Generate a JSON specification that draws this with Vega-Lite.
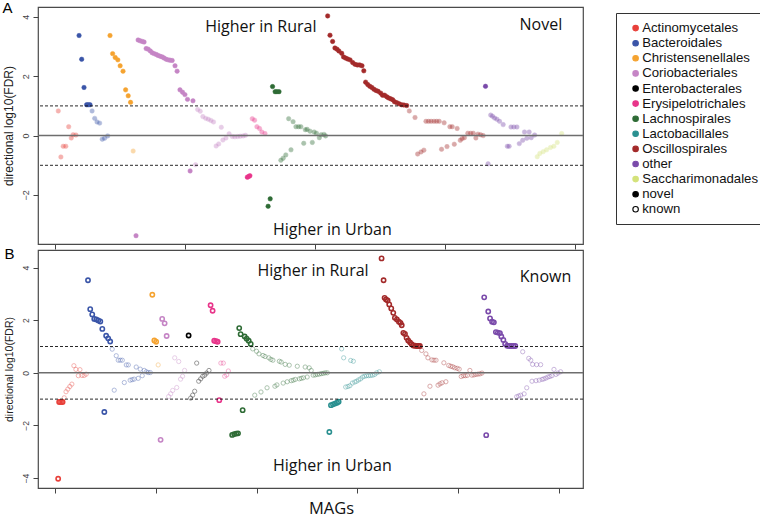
{
  "$schema": "https://vega.github.io/schema/vega-lite/v6.json",
  "padding": {"left": 1, "top": 0, "right": 0, "bottom": 0},
  "bounds": "flush",
  "spacing": 6,
  "config": {
    "view": {"stroke": "#4a4a4a", "strokeWidth": 1.2},
    "axis": {"grid": false, "domain": false, "tickColor": "#444", "labelColor": "#444", "labelFont": "Liberation Sans", "titleFont": "Liberation Sans", "titleFontWeight": "normal", "titleColor": "#222"},
    "legend": {"title": null, "strokeColor": "#333", "strokeWidth": 1, "padding": 8.5, "labelFont": "Liberation Sans", "labelFontSize": 13.2, "labelColor": "#111", "symbolSize": 30, "symbolStrokeWidth": 1.1, "rowPadding": 1.1, "symbolType": "circle", "labelOffset": 0, "symbolOffset": 4.5}
  },
  "datasets": {
    "novel": [
      {"order":"Actinomycetales","idx":1.3,"lfdr":0.83},{"order":"Actinomycetales","idx":2.3,"lfdr":-0.72},{"order":"Actinomycetales","idx":3.2,"lfdr":-0.36},{"order":"Actinomycetales","idx":4.2,"lfdr":-0.36},{"order":"Actinomycetales","idx":5.3,"lfdr":0.30},{"order":"Actinomycetales","idx":6.3,"lfdr":-0.08},{"order":"Actinomycetales","idx":7.0,"lfdr":0.03},{"order":"Actinomycetales","idx":8.1,"lfdr":0.02},
      {"order":"Bacteroidales","idx":9.3,"lfdr":3.37},{"order":"Bacteroidales","idx":10.3,"lfdr":2.57},{"order":"Bacteroidales","idx":11.2,"lfdr":1.62},{"order":"Bacteroidales","idx":12.2,"lfdr":1.04},{"order":"Bacteroidales","idx":12.8,"lfdr":1.04},{"order":"Bacteroidales","idx":13.5,"lfdr":1.04},{"order":"Bacteroidales","idx":14.3,"lfdr":0.83},{"order":"Bacteroidales","idx":15.3,"lfdr":0.58},{"order":"Bacteroidales","idx":16.2,"lfdr":0.46},{"order":"Bacteroidales","idx":17.2,"lfdr":0.42},{"order":"Bacteroidales","idx":18.2,"lfdr":-0.12},{"order":"Bacteroidales","idx":19.1,"lfdr":-0.09},{"order":"Bacteroidales","idx":20.3,"lfdr":-0.01},
      {"order":"Christensenellales","idx":21.2,"lfdr":3.37},{"order":"Christensenellales","idx":22.2,"lfdr":2.76},{"order":"Christensenellales","idx":23.2,"lfdr":2.63},{"order":"Christensenellales","idx":24.2,"lfdr":2.55},{"order":"Christensenellales","idx":25.1,"lfdr":2.35},{"order":"Christensenellales","idx":26.2,"lfdr":2.17},{"order":"Christensenellales","idx":27.2,"lfdr":1.54},{"order":"Christensenellales","idx":28.2,"lfdr":1.34},{"order":"Christensenellales","idx":29.1,"lfdr":1.12},{"order":"Christensenellales","idx":30.1,"lfdr":-0.52},
      {"order":"Coriobacteriales","idx":31.2,"lfdr":-3.37},{"order":"Coriobacteriales","idx":32.0,"lfdr":3.22},{"order":"Coriobacteriales","idx":32.8,"lfdr":3.19},{"order":"Coriobacteriales","idx":33.6,"lfdr":3.17},{"order":"Coriobacteriales","idx":34.3,"lfdr":3.15},{"order":"Coriobacteriales","idx":35.1,"lfdr":2.93},{"order":"Coriobacteriales","idx":35.9,"lfdr":2.91},{"order":"Coriobacteriales","idx":36.7,"lfdr":2.85},{"order":"Coriobacteriales","idx":37.4,"lfdr":2.79},{"order":"Coriobacteriales","idx":38.2,"lfdr":2.76},{"order":"Coriobacteriales","idx":39.0,"lfdr":2.73},{"order":"Coriobacteriales","idx":39.7,"lfdr":2.70},{"order":"Coriobacteriales","idx":40.5,"lfdr":2.67},{"order":"Coriobacteriales","idx":41.3,"lfdr":2.65},{"order":"Coriobacteriales","idx":42.0,"lfdr":2.61},{"order":"Coriobacteriales","idx":42.8,"lfdr":2.57},{"order":"Coriobacteriales","idx":43.6,"lfdr":2.55},{"order":"Coriobacteriales","idx":44.3,"lfdr":2.54},{"order":"Coriobacteriales","idx":45.1,"lfdr":2.53},{"order":"Coriobacteriales","idx":46.2,"lfdr":2.35},{"order":"Coriobacteriales","idx":47.0,"lfdr":2.17},{"order":"Coriobacteriales","idx":48.1,"lfdr":1.54},{"order":"Coriobacteriales","idx":49.1,"lfdr":1.46},{"order":"Coriobacteriales","idx":50.0,"lfdr":1.38},{"order":"Coriobacteriales","idx":51.0,"lfdr":1.22},{"order":"Coriobacteriales","idx":52.0,"lfdr":-1.19},{"order":"Coriobacteriales","idx":53.1,"lfdr":1.17},{"order":"Coriobacteriales","idx":54.1,"lfdr":-0.98},{"order":"Coriobacteriales","idx":54.9,"lfdr":0.88},{"order":"Coriobacteriales","idx":55.9,"lfdr":0.82},{"order":"Coriobacteriales","idx":56.9,"lfdr":0.64},{"order":"Coriobacteriales","idx":58.0,"lfdr":0.58},{"order":"Coriobacteriales","idx":59.0,"lfdr":0.55},{"order":"Coriobacteriales","idx":60.0,"lfdr":0.51},{"order":"Coriobacteriales","idx":61.0,"lfdr":0.46},{"order":"Coriobacteriales","idx":62.0,"lfdr":-0.35},{"order":"Coriobacteriales","idx":63.0,"lfdr":-0.28},{"order":"Coriobacteriales","idx":64.0,"lfdr":0.28},{"order":"Coriobacteriales","idx":64.6,"lfdr":-0.15},{"order":"Coriobacteriales","idx":65.8,"lfdr":-0.08},{"order":"Coriobacteriales","idx":67.0,"lfdr":0.06},{"order":"Coriobacteriales","idx":68.2,"lfdr":-0.03},{"order":"Coriobacteriales","idx":69.2,"lfdr":-0.04},{"order":"Coriobacteriales","idx":70.3,"lfdr":-0.03},{"order":"Coriobacteriales","idx":71.3,"lfdr":-0.02},{"order":"Coriobacteriales","idx":72.4,"lfdr":-0.01},{"order":"Coriobacteriales","idx":73.3,"lfdr":0.01},
      {"order":"Erysipelotrichales","idx":74.0,"lfdr":-1.40},{"order":"Erysipelotrichales","idx":74.5,"lfdr":-1.38},{"order":"Erysipelotrichales","idx":75.0,"lfdr":-1.35},{"order":"Erysipelotrichales","idx":75.9,"lfdr":0.57},{"order":"Erysipelotrichales","idx":76.8,"lfdr":0.52},{"order":"Erysipelotrichales","idx":77.7,"lfdr":0.30},{"order":"Erysipelotrichales","idx":78.7,"lfdr":0.24},{"order":"Erysipelotrichales","idx":79.6,"lfdr":0.12},{"order":"Erysipelotrichales","idx":80.8,"lfdr":0.07},
      {"order":"Lachnospirales","idx":82.0,"lfdr":-2.38},{"order":"Lachnospirales","idx":82.8,"lfdr":-2.13},{"order":"Lachnospirales","idx":83.7,"lfdr":1.65},{"order":"Lachnospirales","idx":84.7,"lfdr":1.48},{"order":"Lachnospirales","idx":85.4,"lfdr":1.48},{"order":"Lachnospirales","idx":86.2,"lfdr":1.48},{"order":"Lachnospirales","idx":86.9,"lfdr":-0.83},{"order":"Lachnospirales","idx":87.8,"lfdr":-0.76},{"order":"Lachnospirales","idx":88.8,"lfdr":-0.65},{"order":"Lachnospirales","idx":89.9,"lfdr":0.57},{"order":"Lachnospirales","idx":90.8,"lfdr":-0.48},{"order":"Lachnospirales","idx":91.6,"lfdr":0.47},{"order":"Lachnospirales","idx":92.7,"lfdr":0.30},{"order":"Lachnospirales","idx":93.7,"lfdr":0.30},{"order":"Lachnospirales","idx":94.6,"lfdr":0.30},{"order":"Lachnospirales","idx":95.7,"lfdr":-0.26},{"order":"Lachnospirales","idx":96.3,"lfdr":0.20},{"order":"Lachnospirales","idx":97.0,"lfdr":0.21},{"order":"Lachnospirales","idx":98.1,"lfdr":0.15},{"order":"Lachnospirales","idx":99.0,"lfdr":-0.23},{"order":"Lachnospirales","idx":99.7,"lfdr":0.12},{"order":"Lachnospirales","idx":100.6,"lfdr":0.08},{"order":"Lachnospirales","idx":101.7,"lfdr":-0.07},{"order":"Lachnospirales","idx":102.4,"lfdr":0.03},{"order":"Lachnospirales","idx":103.5,"lfdr":0.04},{"order":"Lachnospirales","idx":104.1,"lfdr":-0.01},
      {"order":"Oscillospirales","idx":104.9,"lfdr":4.03},{"order":"Oscillospirales","idx":105.8,"lfdr":3.38},{"order":"Oscillospirales","idx":106.8,"lfdr":3.17},{"order":"Oscillospirales","idx":107.7,"lfdr":2.95},{"order":"Oscillospirales","idx":108.5,"lfdr":2.91},{"order":"Oscillospirales","idx":109.2,"lfdr":2.85},{"order":"Oscillospirales","idx":110.3,"lfdr":2.77},{"order":"Oscillospirales","idx":111.0,"lfdr":2.65},{"order":"Oscillospirales","idx":111.8,"lfdr":2.61},{"order":"Oscillospirales","idx":112.6,"lfdr":2.58},{"order":"Oscillospirales","idx":113.5,"lfdr":2.55},{"order":"Oscillospirales","idx":114.5,"lfdr":2.46},{"order":"Oscillospirales","idx":115.4,"lfdr":2.40},{"order":"Oscillospirales","idx":116.3,"lfdr":2.38},{"order":"Oscillospirales","idx":117.2,"lfdr":2.38},{"order":"Oscillospirales","idx":118.1,"lfdr":2.35},{"order":"Oscillospirales","idx":118.8,"lfdr":2.18},{"order":"Oscillospirales","idx":119.5,"lfdr":1.80},{"order":"Oscillospirales","idx":120.3,"lfdr":1.72},{"order":"Oscillospirales","idx":121.1,"lfdr":1.66},{"order":"Oscillospirales","idx":121.9,"lfdr":1.62},{"order":"Oscillospirales","idx":122.7,"lfdr":1.56},{"order":"Oscillospirales","idx":123.5,"lfdr":1.52},{"order":"Oscillospirales","idx":124.3,"lfdr":1.49},{"order":"Oscillospirales","idx":125.3,"lfdr":1.43},{"order":"Oscillospirales","idx":126.0,"lfdr":1.36},{"order":"Oscillospirales","idx":126.8,"lfdr":1.36},{"order":"Oscillospirales","idx":127.6,"lfdr":1.31},{"order":"Oscillospirales","idx":128.3,"lfdr":1.27},{"order":"Oscillospirales","idx":129.1,"lfdr":1.24},{"order":"Oscillospirales","idx":129.9,"lfdr":1.21},{"order":"Oscillospirales","idx":130.6,"lfdr":1.14},{"order":"Oscillospirales","idx":131.5,"lfdr":1.11},{"order":"Oscillospirales","idx":132.4,"lfdr":1.07},{"order":"Oscillospirales","idx":133.3,"lfdr":1.04},{"order":"Oscillospirales","idx":134.2,"lfdr":1.03},{"order":"Oscillospirales","idx":135.3,"lfdr":1.01},
      {"order":"Oscillospirales","idx":136.3,"lfdr":0.83},{"order":"Oscillospirales","idx":138.5,"lfdr":0.61},{"order":"Oscillospirales","idx":139.5,"lfdr":-0.62},{"order":"Oscillospirales","idx":140.8,"lfdr":-0.55},{"order":"Oscillospirales","idx":141.9,"lfdr":-0.49},{"order":"Oscillospirales","idx":142.7,"lfdr":0.48},{"order":"Oscillospirales","idx":143.7,"lfdr":0.48},{"order":"Oscillospirales","idx":144.7,"lfdr":0.48},{"order":"Oscillospirales","idx":145.8,"lfdr":0.48},{"order":"Oscillospirales","idx":146.8,"lfdr":0.48},{"order":"Oscillospirales","idx":147.8,"lfdr":0.48},{"order":"Oscillospirales","idx":148.7,"lfdr":-0.46},{"order":"Oscillospirales","idx":149.7,"lfdr":0.43},{"order":"Oscillospirales","idx":150.8,"lfdr":-0.37},{"order":"Oscillospirales","idx":151.9,"lfdr":0.30},{"order":"Oscillospirales","idx":152.8,"lfdr":0.30},{"order":"Oscillospirales","idx":153.6,"lfdr":-0.29},{"order":"Oscillospirales","idx":154.7,"lfdr":0.24},{"order":"Oscillospirales","idx":155.9,"lfdr":-0.16},{"order":"Oscillospirales","idx":156.6,"lfdr":-0.10},{"order":"Oscillospirales","idx":157.5,"lfdr":-0.07},{"order":"Oscillospirales","idx":158.8,"lfdr":0.08},{"order":"Oscillospirales","idx":159.9,"lfdr":0.08},{"order":"Oscillospirales","idx":160.9,"lfdr":0.08},{"order":"Oscillospirales","idx":161.9,"lfdr":-0.08},{"order":"Oscillospirales","idx":162.7,"lfdr":0.05},{"order":"Oscillospirales","idx":163.7,"lfdr":0.03},{"order":"Oscillospirales","idx":164.7,"lfdr":0.00},
      {"order":"other","idx":165.6,"lfdr":1.66},{"order":"other","idx":166.6,"lfdr":-0.95},{"order":"other","idx":167.6,"lfdr":0.69},{"order":"other","idx":168.3,"lfdr":0.65},{"order":"other","idx":169.1,"lfdr":0.59},{"order":"other","idx":170.0,"lfdr":0.55},{"order":"other","idx":171.0,"lfdr":0.48},{"order":"other","idx":172.4,"lfdr":0.37},{"order":"other","idx":174.0,"lfdr":-0.36},{"order":"other","idx":174.7,"lfdr":-0.36},{"order":"other","idx":175.4,"lfdr":0.29},{"order":"other","idx":176.5,"lfdr":0.29},{"order":"other","idx":177.7,"lfdr":0.29},{"order":"other","idx":178.6,"lfdr":-0.27},{"order":"other","idx":179.9,"lfdr":-0.16},{"order":"other","idx":180.6,"lfdr":0.12},{"order":"other","idx":181.5,"lfdr":-0.09},{"order":"other","idx":182.4,"lfdr":0.12},{"order":"other","idx":183.2,"lfdr":-0.07},{"order":"other","idx":184.5,"lfdr":0.02},
      {"order":"Saccharimonadales","idx":185.5,"lfdr":-0.71},{"order":"Saccharimonadales","idx":186.5,"lfdr":-0.60},{"order":"Saccharimonadales","idx":187.8,"lfdr":-0.54},{"order":"Saccharimonadales","idx":189.1,"lfdr":-0.48},{"order":"Saccharimonadales","idx":190.6,"lfdr":-0.40},{"order":"Saccharimonadales","idx":191.9,"lfdr":-0.36},{"order":"Saccharimonadales","idx":193.2,"lfdr":-0.23},{"order":"Saccharimonadales","idx":194.9,"lfdr":0.07}
    ],
    "known": [
      {"order":"Actinomycetales","idx":1.6,"lfdr":-4.03},{"order":"Actinomycetales","idx":2.1,"lfdr":-1.11},{"order":"Actinomycetales","idx":3.0,"lfdr":-1.11},{"order":"Actinomycetales","idx":3.8,"lfdr":-1.11},{"order":"Actinomycetales","idx":4.6,"lfdr":-0.95},{"order":"Actinomycetales","idx":5.5,"lfdr":-0.72},{"order":"Actinomycetales","idx":6.4,"lfdr":-0.62},{"order":"Actinomycetales","idx":7.4,"lfdr":-0.52},{"order":"Actinomycetales","idx":8.4,"lfdr":-0.43},{"order":"Actinomycetales","idx":9.4,"lfdr":0.27},{"order":"Actinomycetales","idx":10.4,"lfdr":0.13},{"order":"Actinomycetales","idx":11.6,"lfdr":-0.11},{"order":"Actinomycetales","idx":12.4,"lfdr":0.12},{"order":"Actinomycetales","idx":13.4,"lfdr":-0.10},{"order":"Actinomycetales","idx":14.5,"lfdr":-0.10},{"order":"Actinomycetales","idx":15.5,"lfdr":-0.05},
      {"order":"Bacteroidales","idx":16.4,"lfdr":3.52},{"order":"Bacteroidales","idx":17.5,"lfdr":2.42},{"order":"Bacteroidales","idx":18.5,"lfdr":2.22},{"order":"Bacteroidales","idx":19.5,"lfdr":2.05},{"order":"Bacteroidales","idx":20.5,"lfdr":2.03},{"order":"Bacteroidales","idx":21.5,"lfdr":1.99},{"order":"Bacteroidales","idx":22.5,"lfdr":1.95},{"order":"Bacteroidales","idx":23.5,"lfdr":1.67},{"order":"Bacteroidales","idx":24.5,"lfdr":-1.49},{"order":"Bacteroidales","idx":25.4,"lfdr":1.41},{"order":"Bacteroidales","idx":26.4,"lfdr":1.31},{"order":"Bacteroidales","idx":27.4,"lfdr":1.19},{"order":"Bacteroidales","idx":28.4,"lfdr":0.90},{"order":"Bacteroidales","idx":29.4,"lfdr":-0.66},{"order":"Bacteroidales","idx":30.4,"lfdr":0.65},{"order":"Bacteroidales","idx":31.4,"lfdr":0.48},{"order":"Bacteroidales","idx":32.4,"lfdr":0.48},{"order":"Bacteroidales","idx":33.4,"lfdr":0.48},{"order":"Bacteroidales","idx":34.4,"lfdr":-0.37},{"order":"Bacteroidales","idx":35.4,"lfdr":0.30},{"order":"Bacteroidales","idx":36.4,"lfdr":0.30},{"order":"Bacteroidales","idx":37.3,"lfdr":-0.28},{"order":"Bacteroidales","idx":38.3,"lfdr":-0.26},{"order":"Bacteroidales","idx":39.3,"lfdr":-0.24},{"order":"Bacteroidales","idx":40.3,"lfdr":0.22},{"order":"Bacteroidales","idx":41.3,"lfdr":-0.21},{"order":"Bacteroidales","idx":42.3,"lfdr":0.14},{"order":"Bacteroidales","idx":43.3,"lfdr":-0.11},{"order":"Bacteroidales","idx":44.3,"lfdr":0.09},{"order":"Bacteroidales","idx":45.3,"lfdr":0.04},{"order":"Bacteroidales","idx":46.3,"lfdr":0.01},{"order":"Bacteroidales","idx":47.3,"lfdr":0.01},
      {"order":"Christensenellales","idx":48.3,"lfdr":2.97},{"order":"Christensenellales","idx":49.3,"lfdr":1.23},{"order":"Christensenellales","idx":50.2,"lfdr":1.18},{"order":"Christensenellales","idx":51.2,"lfdr":0.30},
      {"order":"Coriobacteriales","idx":52.4,"lfdr":-2.55},{"order":"Coriobacteriales","idx":53.2,"lfdr":2.05},{"order":"Coriobacteriales","idx":54.4,"lfdr":1.88},{"order":"Coriobacteriales","idx":55.4,"lfdr":1.40},{"order":"Coriobacteriales","idx":56.4,"lfdr":-0.90},{"order":"Coriobacteriales","idx":57.4,"lfdr":-0.80},{"order":"Coriobacteriales","idx":58.4,"lfdr":-0.67},{"order":"Coriobacteriales","idx":59.4,"lfdr":0.57},{"order":"Coriobacteriales","idx":60.4,"lfdr":-0.56},{"order":"Coriobacteriales","idx":61.4,"lfdr":0.43},{"order":"Coriobacteriales","idx":62.3,"lfdr":-0.24},{"order":"Coriobacteriales","idx":63.3,"lfdr":-0.13},{"order":"Coriobacteriales","idx":64.3,"lfdr":0.09},
      {"order":"Enterobacterales","idx":66.3,"lfdr":1.42},{"order":"Enterobacterales","idx":67.3,"lfdr":-0.96},{"order":"Enterobacterales","idx":68.3,"lfdr":-0.85},{"order":"Enterobacterales","idx":69.3,"lfdr":-0.70},{"order":"Enterobacterales","idx":70.3,"lfdr":0.37},{"order":"Enterobacterales","idx":71.3,"lfdr":-0.32},{"order":"Enterobacterales","idx":72.3,"lfdr":-0.23},{"order":"Enterobacterales","idx":73.3,"lfdr":-0.13},{"order":"Enterobacterales","idx":74.3,"lfdr":-0.09},{"order":"Enterobacterales","idx":75.2,"lfdr":-0.01},{"order":"Enterobacterales","idx":76.4,"lfdr":0.09},
      {"order":"Erysipelotrichales","idx":77.2,"lfdr":2.57},{"order":"Erysipelotrichales","idx":78.2,"lfdr":2.36},{"order":"Erysipelotrichales","idx":79.0,"lfdr":1.22},{"order":"Erysipelotrichales","idx":79.9,"lfdr":1.20},{"order":"Erysipelotrichales","idx":80.7,"lfdr":1.18},{"order":"Erysipelotrichales","idx":81.5,"lfdr":-1.04},{"order":"Erysipelotrichales","idx":82.3,"lfdr":0.37},{"order":"Erysipelotrichales","idx":83.5,"lfdr":0.37},{"order":"Erysipelotrichales","idx":84.2,"lfdr":-0.13},{"order":"Erysipelotrichales","idx":85.2,"lfdr":-0.08},{"order":"Erysipelotrichales","idx":86.0,"lfdr":0.07},
      {"order":"Lachnospirales","idx":87.9,"lfdr":-2.36},{"order":"Lachnospirales","idx":88.9,"lfdr":-2.33},{"order":"Lachnospirales","idx":89.9,"lfdr":-2.31},{"order":"Lachnospirales","idx":90.8,"lfdr":-2.30},{"order":"Lachnospirales","idx":91.4,"lfdr":1.70},{"order":"Lachnospirales","idx":92.1,"lfdr":1.47},{"order":"Lachnospirales","idx":93.1,"lfdr":-1.42},{"order":"Lachnospirales","idx":94.1,"lfdr":1.38},{"order":"Lachnospirales","idx":95.1,"lfdr":1.30},{"order":"Lachnospirales","idx":96.1,"lfdr":1.22},{"order":"Lachnospirales","idx":97.1,"lfdr":1.10},{"order":"Lachnospirales","idx":98.1,"lfdr":0.91},{"order":"Lachnospirales","idx":99.1,"lfdr":-0.85},{"order":"Lachnospirales","idx":100.0,"lfdr":0.82},{"order":"Lachnospirales","idx":101.2,"lfdr":0.72},{"order":"Lachnospirales","idx":102.2,"lfdr":-0.73},{"order":"Lachnospirales","idx":103.2,"lfdr":0.66},{"order":"Lachnospirales","idx":104.2,"lfdr":0.62},{"order":"Lachnospirales","idx":105.2,"lfdr":-0.57},{"order":"Lachnospirales","idx":106.1,"lfdr":0.57},{"order":"Lachnospirales","idx":107.1,"lfdr":0.51},{"order":"Lachnospirales","idx":108.1,"lfdr":0.48},{"order":"Lachnospirales","idx":109.1,"lfdr":-0.51},{"order":"Lachnospirales","idx":110.1,"lfdr":-0.46},{"order":"Lachnospirales","idx":111.3,"lfdr":0.44},{"order":"Lachnospirales","idx":112.2,"lfdr":0.41},{"order":"Lachnospirales","idx":113.2,"lfdr":-0.39},{"order":"Lachnospirales","idx":114.2,"lfdr":0.32},{"order":"Lachnospirales","idx":115.2,"lfdr":-0.34},{"order":"Lachnospirales","idx":116.2,"lfdr":0.29},{"order":"Lachnospirales","idx":117.2,"lfdr":-0.30},{"order":"Lachnospirales","idx":118.2,"lfdr":-0.28},{"order":"Lachnospirales","idx":119.2,"lfdr":-0.25},{"order":"Lachnospirales","idx":120.2,"lfdr":0.25},{"order":"Lachnospirales","idx":121.2,"lfdr":-0.23},{"order":"Lachnospirales","idx":122.2,"lfdr":-0.21},{"order":"Lachnospirales","idx":123.2,"lfdr":-0.19},{"order":"Lachnospirales","idx":124.1,"lfdr":0.22},{"order":"Lachnospirales","idx":125.1,"lfdr":-0.16},{"order":"Lachnospirales","idx":126.1,"lfdr":0.19},{"order":"Lachnospirales","idx":127.1,"lfdr":0.09},{"order":"Lachnospirales","idx":128.1,"lfdr":-0.09},{"order":"Lachnospirales","idx":129.1,"lfdr":-0.08},{"order":"Lachnospirales","idx":130.1,"lfdr":-0.06},{"order":"Lachnospirales","idx":131.1,"lfdr":-0.05},{"order":"Lachnospirales","idx":132.1,"lfdr":-0.03},{"order":"Lachnospirales","idx":133.1,"lfdr":-0.02},{"order":"Lachnospirales","idx":134.1,"lfdr":0.00},{"order":"Lachnospirales","idx":135.1,"lfdr":0.00},
      {"order":"Lactobacillales","idx":136.1,"lfdr":-2.25},{"order":"Lactobacillales","idx":136.9,"lfdr":-1.23},{"order":"Lactobacillales","idx":137.9,"lfdr":-1.20},{"order":"Lactobacillales","idx":138.9,"lfdr":-1.17},{"order":"Lactobacillales","idx":139.9,"lfdr":-1.14},{"order":"Lactobacillales","idx":140.7,"lfdr":-1.10},{"order":"Lactobacillales","idx":142.2,"lfdr":0.91},{"order":"Lactobacillales","idx":143.2,"lfdr":0.57},{"order":"Lactobacillales","idx":144.2,"lfdr":-0.54},{"order":"Lactobacillales","idx":145.3,"lfdr":-0.52},{"order":"Lactobacillales","idx":146.3,"lfdr":-0.49},{"order":"Lactobacillales","idx":146.7,"lfdr":0.47},{"order":"Lactobacillales","idx":147.5,"lfdr":-0.39},{"order":"Lactobacillales","idx":148.0,"lfdr":0.44},{"order":"Lactobacillales","idx":148.7,"lfdr":-0.35},{"order":"Lactobacillales","idx":149.6,"lfdr":-0.32},{"order":"Lactobacillales","idx":150.6,"lfdr":-0.27},{"order":"Lactobacillales","idx":151.6,"lfdr":-0.23},{"order":"Lactobacillales","idx":152.6,"lfdr":-0.16},{"order":"Lactobacillales","idx":153.6,"lfdr":-0.13},{"order":"Lactobacillales","idx":154.6,"lfdr":-0.11},{"order":"Lactobacillales","idx":155.6,"lfdr":-0.11},{"order":"Lactobacillales","idx":156.6,"lfdr":-0.10},{"order":"Lactobacillales","idx":157.6,"lfdr":-0.09},{"order":"Lactobacillales","idx":158.6,"lfdr":-0.06},{"order":"Lactobacillales","idx":159.6,"lfdr":0.00},{"order":"Lactobacillales","idx":160.9,"lfdr":0.04},
      {"order":"Oscillospirales","idx":162.0,"lfdr":4.35},{"order":"Oscillospirales","idx":163.0,"lfdr":3.52},{"order":"Oscillospirales","idx":163.5,"lfdr":2.85},{"order":"Oscillospirales","idx":164.2,"lfdr":2.79},{"order":"Oscillospirales","idx":165.0,"lfdr":2.75},{"order":"Oscillospirales","idx":165.8,"lfdr":2.60},{"order":"Oscillospirales","idx":166.8,"lfdr":2.45},{"order":"Oscillospirales","idx":167.8,"lfdr":2.28},{"order":"Oscillospirales","idx":168.6,"lfdr":2.09},{"order":"Oscillospirales","idx":169.6,"lfdr":2.03},{"order":"Oscillospirales","idx":170.6,"lfdr":1.94},{"order":"Oscillospirales","idx":171.4,"lfdr":1.90},{"order":"Oscillospirales","idx":172.0,"lfdr":1.81},{"order":"Oscillospirales","idx":172.8,"lfdr":1.52},{"order":"Oscillospirales","idx":173.6,"lfdr":1.48},{"order":"Oscillospirales","idx":174.4,"lfdr":1.33},{"order":"Oscillospirales","idx":175.2,"lfdr":1.23},{"order":"Oscillospirales","idx":176.1,"lfdr":1.16},{"order":"Oscillospirales","idx":176.9,"lfdr":1.09},{"order":"Oscillospirales","idx":177.7,"lfdr":1.04},{"order":"Oscillospirales","idx":178.6,"lfdr":1.03},{"order":"Oscillospirales","idx":179.4,"lfdr":1.02},{"order":"Oscillospirales","idx":180.2,"lfdr":1.02},{"order":"Oscillospirales","idx":181.0,"lfdr":1.02},
      {"order":"Oscillospirales","idx":181.9,"lfdr":0.85},{"order":"Oscillospirales","idx":183.0,"lfdr":-0.80},{"order":"Oscillospirales","idx":184.0,"lfdr":0.72},{"order":"Oscillospirales","idx":185.0,"lfdr":0.57},{"order":"Oscillospirales","idx":186.0,"lfdr":-0.51},{"order":"Oscillospirales","idx":187.0,"lfdr":0.49},{"order":"Oscillospirales","idx":188.0,"lfdr":0.48},{"order":"Oscillospirales","idx":189.0,"lfdr":0.48},{"order":"Oscillospirales","idx":190.0,"lfdr":-0.47},{"order":"Oscillospirales","idx":191.0,"lfdr":-0.42},{"order":"Oscillospirales","idx":192.0,"lfdr":-0.38},{"order":"Oscillospirales","idx":192.9,"lfdr":0.38},{"order":"Oscillospirales","idx":193.9,"lfdr":-0.34},{"order":"Oscillospirales","idx":195.3,"lfdr":0.28},{"order":"Oscillospirales","idx":196.3,"lfdr":0.25},{"order":"Oscillospirales","idx":197.3,"lfdr":0.23},{"order":"Oscillospirales","idx":198.3,"lfdr":0.19},{"order":"Oscillospirales","idx":199.5,"lfdr":0.17},{"order":"Oscillospirales","idx":200.5,"lfdr":0.14},{"order":"Oscillospirales","idx":201.5,"lfdr":-0.14},{"order":"Oscillospirales","idx":202.5,"lfdr":-0.11},{"order":"Oscillospirales","idx":203.5,"lfdr":-0.11},{"order":"Oscillospirales","idx":204.5,"lfdr":-0.10},{"order":"Oscillospirales","idx":205.8,"lfdr":0.09},{"order":"Oscillospirales","idx":206.8,"lfdr":-0.09},{"order":"Oscillospirales","idx":207.8,"lfdr":-0.08},{"order":"Oscillospirales","idx":208.8,"lfdr":-0.06},{"order":"Oscillospirales","idx":209.8,"lfdr":-0.05},{"order":"Oscillospirales","idx":210.8,"lfdr":-0.04},{"order":"Oscillospirales","idx":211.8,"lfdr":-0.01},
      {"order":"other","idx":212.9,"lfdr":2.87},{"order":"other","idx":213.9,"lfdr":-2.37},{"order":"other","idx":214.9,"lfdr":2.33},{"order":"other","idx":215.8,"lfdr":2.07},{"order":"other","idx":216.8,"lfdr":1.94},{"order":"other","idx":217.7,"lfdr":1.92},{"order":"other","idx":218.7,"lfdr":1.55},{"order":"other","idx":219.7,"lfdr":1.53},{"order":"other","idx":220.7,"lfdr":1.51},{"order":"other","idx":221.4,"lfdr":1.38},{"order":"other","idx":222.4,"lfdr":1.25},{"order":"other","idx":223.3,"lfdr":1.10},{"order":"other","idx":224.3,"lfdr":1.03},{"order":"other","idx":225.3,"lfdr":1.02},{"order":"other","idx":226.3,"lfdr":1.02},{"order":"other","idx":227.3,"lfdr":1.02},{"order":"other","idx":228.3,"lfdr":1.02},{"order":"other","idx":229.0,"lfdr":-0.91},{"order":"other","idx":230.0,"lfdr":-0.88},{"order":"other","idx":231.0,"lfdr":-0.85},{"order":"other","idx":232.0,"lfdr":0.80},{"order":"other","idx":232.7,"lfdr":-0.80},{"order":"other","idx":234.0,"lfdr":-0.57},{"order":"other","idx":235.0,"lfdr":0.55},{"order":"other","idx":236.0,"lfdr":0.48},{"order":"other","idx":236.6,"lfdr":-0.32},{"order":"other","idx":236.9,"lfdr":0.32},{"order":"other","idx":238.6,"lfdr":-0.30},{"order":"other","idx":238.9,"lfdr":0.31},{"order":"other","idx":240.2,"lfdr":-0.28},{"order":"other","idx":240.9,"lfdr":0.31},{"order":"other","idx":241.6,"lfdr":-0.25},{"order":"other","idx":242.5,"lfdr":-0.23},{"order":"other","idx":243.5,"lfdr":-0.20},{"order":"other","idx":244.5,"lfdr":-0.16},{"order":"other","idx":245.5,"lfdr":-0.14},{"order":"other","idx":246.5,"lfdr":-0.11},{"order":"other","idx":247.5,"lfdr":0.13},{"order":"other","idx":248.5,"lfdr":-0.06},{"order":"other","idx":249.5,"lfdr":-0.01},{"order":"other","idx":250.8,"lfdr":0.04}
    ]
  },
  "vconcat": [
    {
      "width": 545,
      "height": 237,
      "title": {"text": "A", "anchor": "start", "frame": "bounds", "fontSize": 15, "font": "Liberation Sans", "fontWeight": "normal", "offset": 0, "dy": 9},
      "layer": [
        {
          "data": {"name": "novel"},
          "mark": {"type": "point", "filled": true, "size": 20, "strokeWidth": 0.5},
          "encoding": {
            "x": {"field": "idx", "type": "quantitative", "scale": {"domain": [-6.5, 203.1], "nice": false, "zero": false}, "axis": {"values": [0, 50, 100, 150, 200], "labels": false, "tickSize": 5, "title": null}},
            "y": {"field": "lfdr", "type": "quantitative", "scale": {"domain": [-3.65, 4.33], "nice": false, "zero": false}, "axis": {"values": [-2, 0, 2, 4], "labelAngle": -90, "labelAlign": "center", "labelBaseline": "bottom", "labelFontSize": 9, "labelPadding": 3, "tickSize": 5, "title": "directional log10(FDR)", "titleFontSize": 12, "titlePadding": 5.5}},
            "fill": {"field": "order", "type": "nominal", "scale": {"domain": ["Actinomycetales","Bacteroidales","Christensenellales","Coriobacteriales","Enterobacterales","Erysipelotrichales","Lachnospirales","Lactobacillales","Oscillospirales","other","Saccharimonadales","novel","known"], "range": ["#E8403A","#3A55A8","#F5A330","#C585C5","#000000","#E8358A","#2E6B35","#2A9090","#A32A2A","#7A4AAA","#D4E27A","#000000","#ffffff"]}, "legend": {"orient": "none", "legendX": 578, "legendY": 6}},
            "stroke": {"field": "order", "type": "nominal", "scale": {"domain": ["Actinomycetales","Bacteroidales","Christensenellales","Coriobacteriales","Enterobacterales","Erysipelotrichales","Lachnospirales","Lactobacillales","Oscillospirales","other","Saccharimonadales","novel","known"], "range": ["#E8403A","#3A55A8","#F5A330","#C585C5","#000000","#E8358A","#2E6B35","#2A9090","#A32A2A","#7A4AAA","#D4E27A","#000000","#000000"]}, "legend": {"orient": "none", "legendX": 578, "legendY": 6}},
            "opacity": {"condition": {"test": "abs(datum.lfdr) >= 1", "value": 1}, "value": 0.4}
          }
        },
        {
          "data": {"values": [{"h": 0}]},
          "mark": {"type": "rule", "color": "#6e6e6e", "strokeWidth": 1.5},
          "encoding": {"y": {"field": "h", "type": "quantitative"}}
        },
        {
          "data": {"values": [{"h": 1}, {"h": -1}]},
          "mark": {"type": "rule", "color": "#111", "strokeWidth": 0.9, "strokeDash": [3, 2]},
          "encoding": {"y": {"field": "h", "type": "quantitative"}}
        },
        {
          "data": {"values": [{"t": "Higher in Rural", "tx": 79.2, "ty": 3.5}, {"t": "Novel", "tx": 186.9, "ty": 3.55}, {"t": "Higher in Urban", "tx": 106.7, "ty": -3.35}]},
          "mark": {"type": "text", "font": "Open Sans", "fontSize": 16, "color": "#111", "baseline": "alphabetic", "align": "center"},
          "encoding": {"x": {"field": "tx", "type": "quantitative"}, "y": {"field": "ty", "type": "quantitative"}, "text": {"field": "t"}}
        }
      ]
    },
    {
      "width": 545,
      "height": 238,
      "title": {"text": "B", "anchor": "start", "frame": "bounds", "fontSize": 15, "font": "Liberation Sans", "fontWeight": "normal", "offset": 0, "dy": 12},
      "layer": [
        {
          "data": {"name": "known"},
          "mark": {"type": "point", "filled": false, "size": 18},
          "encoding": {
            "x": {"field": "idx", "type": "quantitative", "scale": {"domain": [-8.4, 261.9], "nice": false, "zero": false}, "axis": {"values": [0, 50, 100, 150, 200, 250], "labels": false, "tickSize": 5, "title": "MAGs", "titleFont": "Open Sans", "titleFontSize": 16.5, "titleColor": "#111", "titlePadding": 7, "titleX": 293}},
            "y": {"field": "lfdr", "type": "quantitative", "scale": {"domain": [-4.38, 4.67], "nice": false, "zero": false}, "axis": {"values": [-4, -2, 0, 2, 4], "labelAngle": -90, "labelAlign": "center", "labelBaseline": "bottom", "labelFontSize": 8.5, "labelPadding": 3, "tickSize": 5, "title": "directional log10(FDR)", "titleFontSize": 10.5, "titlePadding": 6.5}},
            "stroke": {"field": "order", "type": "nominal", "scale": {"domain": ["Actinomycetales","Bacteroidales","Christensenellales","Coriobacteriales","Enterobacterales","Erysipelotrichales","Lachnospirales","Lactobacillales","Oscillospirales","other","Saccharimonadales","novel","known"], "range": ["#E8403A","#3A55A8","#F5A330","#C585C5","#000000","#E8358A","#2E6B35","#2A9090","#A32A2A","#7A4AAA","#D4E27A","#000000","#000000"]}, "legend": {"orient": "none", "legendX": 578, "legendY": 6}},
            "opacity": {"condition": {"test": "abs(datum.lfdr) >= 1", "value": 1}, "value": 0.4},
            "strokeWidth": {"condition": {"test": "abs(datum.lfdr) >= 1", "value": 1.6}, "value": 1}
          }
        },
        {
          "data": {"values": [{"h": 0}]},
          "mark": {"type": "rule", "color": "#6e6e6e", "strokeWidth": 1.5},
          "encoding": {"y": {"field": "h", "type": "quantitative"}}
        },
        {
          "data": {"values": [{"h": 1}, {"h": -1}]},
          "mark": {"type": "rule", "color": "#111", "strokeWidth": 0.9, "strokeDash": [3, 2]},
          "encoding": {"y": {"field": "h", "type": "quantitative"}}
        },
        {
          "data": {"values": [{"t": "Higher in Rural", "tx": 128.0, "ty": 3.68}, {"t": "Known", "tx": 243.3, "ty": 3.46}, {"t": "Higher in Urban", "tx": 137.6, "ty": -3.74}]},
          "mark": {"type": "text", "font": "Open Sans", "fontSize": 16, "color": "#111", "baseline": "alphabetic", "align": "center"},
          "encoding": {"x": {"field": "tx", "type": "quantitative"}, "y": {"field": "ty", "type": "quantitative"}, "text": {"field": "t"}}
        }
      ]
    }
  ]
}
